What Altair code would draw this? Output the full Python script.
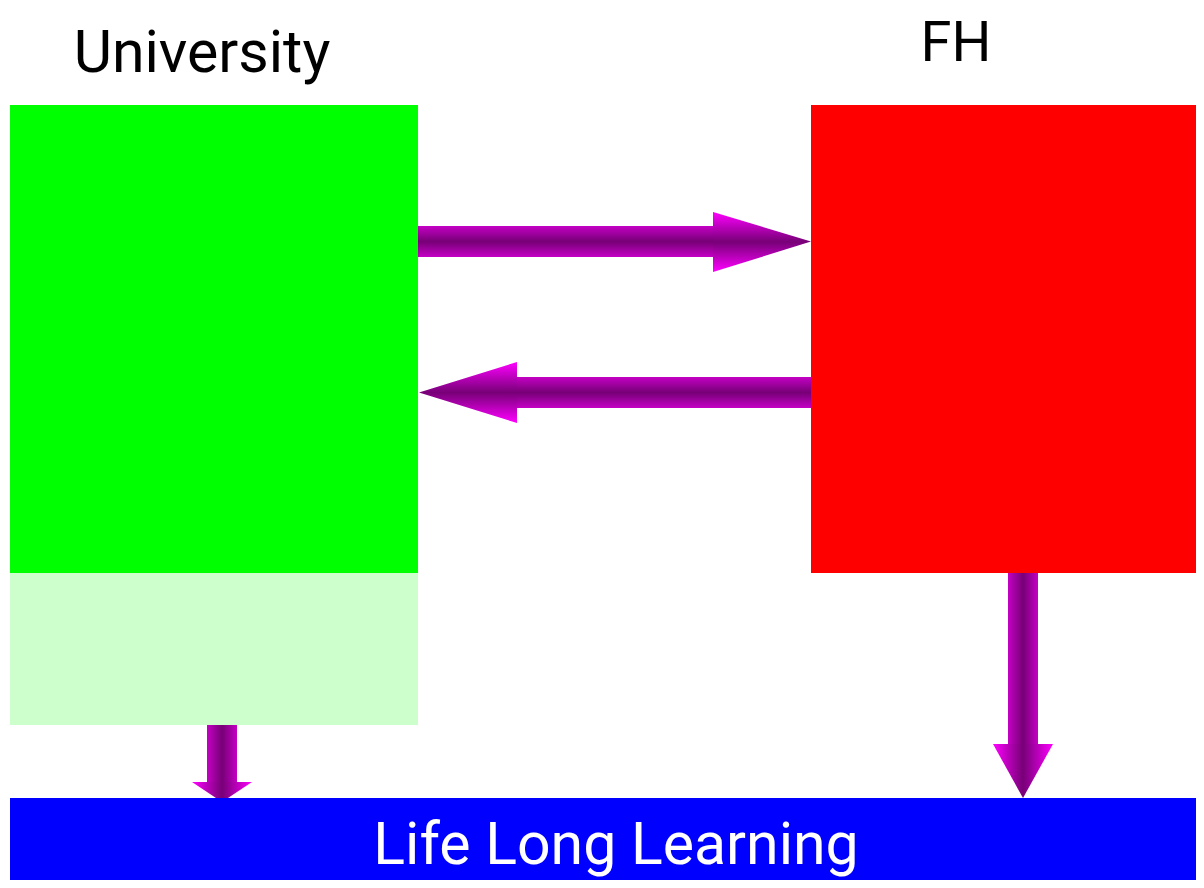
import altair as alt
import pandas as pd

# ---- diagram content (pixel-space coordinates of the picture) ----
box_names = ["University", "University (extra)", "FH", "Life Long Learning"]
box_x0 = [10, 10, 811, 10]
box_x1 = [418, 418, 1204, 1204]
box_y0 = [105, 573, 105, 798]
box_y1 = [573, 725, 573, 888]
box_colors = ["#00FF00", "#CCFFCC", "#FF0000", "#0000FF"]

label_texts = ["University", "FH", "Life Long Learning"]
label_x = [202, 956, 616]
label_y = [72, 61, 864]
label_colors = ["#000000", "#000000", "#FFFFFF"]
label_sizes = [59, 56, 59]

# horizontal arrows: shaft rects
hshaft_x0 = [418, 517]
hshaft_x1 = [713, 811]
hshaft_y0 = [226, 377]
hshaft_y1 = [257, 408]
# horizontal arrow heads: base x, tip x, base y0/y1, tip y
hhead_id = ["a1", "a1", "a2", "a2"]
hhead_x = [713, 811, 419, 517]
hhead_y0 = [212, 241.5, 392.5, 362]
hhead_y1 = [272, 241.5, 392.5, 423]

# vertical arrows: shaft rects
vshaft_x0 = [207, 1008]
vshaft_x1 = [237, 1038]
vshaft_y0 = [725, 573]
vshaft_y1 = [782, 744]
# vertical arrow heads
vhead_id = ["d1", "d1", "d2", "d2"]
vhead_y = [782, 802, 744, 798]
vhead_x0 = [192, 222, 993, 1023]
vhead_x1 = [252, 222, 1053, 1023]

W, H = 1188, 872
xs = alt.Scale(domain=[8, 8 + W], nice=False, zero=False)
ys = alt.Scale(domain=[8, 8 + H], nice=False, zero=False, reverse=True)

def grad(vertical, edge):
    if vertical:
        x1, y1, x2, y2 = 0, 0, 0, 1
    else:
        x1, y1, x2, y2 = 0, 0, 1, 0
    return {
        "gradient": "linear", "x1": x1, "y1": y1, "x2": x2, "y2": y2,
        "stops": [
            {"offset": 0, "color": edge},
            {"offset": 0.5, "color": "#770077"},
            {"offset": 1, "color": edge},
        ],
    }

boxes = pd.DataFrame({"name": box_names, "x0": box_x0, "x1": box_x1,
                      "y0": box_y0, "y1": box_y1, "c": box_colors})
labels = pd.DataFrame({"t": label_texts, "x": label_x, "y": label_y,
                       "c": label_colors, "s": label_sizes})
hs = pd.DataFrame({"x0": hshaft_x0, "x1": hshaft_x1, "y0": hshaft_y0, "y1": hshaft_y1})
hh = pd.DataFrame({"id": hhead_id, "x": hhead_x, "y0": hhead_y0, "y1": hhead_y1})
vs = pd.DataFrame({"x0": vshaft_x0, "x1": vshaft_x1, "y0": vshaft_y0, "y1": vshaft_y1})
vh = pd.DataFrame({"id": vhead_id, "y": vhead_y, "x0": vhead_x0, "x1": vhead_x1})

X = lambda f: alt.X(f, type="quantitative", scale=xs, axis=None)
Y = lambda f: alt.Y(f, type="quantitative", scale=ys, axis=None)

hshafts = alt.Chart(hs).mark_rect(fill=grad(True, "#C400C4")).encode(
    x=X("x0"), x2="x1", y=Y("y0"), y2="y1")
hheads = alt.Chart(hh).mark_area(fill=grad(True, "#FF00FF"), orient="vertical").encode(
    x=X("x"), y=Y("y0"), y2="y1", detail="id")
vshafts = alt.Chart(vs).mark_rect(fill=grad(False, "#C400C4")).encode(
    x=X("x0"), x2="x1", y=Y("y0"), y2="y1")
vheads = alt.Chart(vh).mark_area(fill=grad(False, "#FF00FF"), orient="horizontal").encode(
    y=Y("y"), x=X("x0"), x2="x1", detail="id")

box_layer = alt.Chart(boxes[boxes["name"] != "Life Long Learning"]).mark_rect(clip=True).encode(
    x=X("x0"), x2="x1", y=Y("y0"), y2="y1",
    fill=alt.Fill("c:N", scale=None))
bar_layer = alt.Chart(boxes[boxes["name"] == "Life Long Learning"]).mark_rect(clip=True).encode(
    x=X("x0"), x2="x1", y=Y("y0"), y2="y1",
    fill=alt.Fill("c:N", scale=None))

text_layer = alt.Chart(labels).mark_text(
    font="Roboto", baseline="alphabetic", align="center").encode(
    x=X("x"), y=Y("y"), text="t:N",
    fill=alt.Fill("c:N", scale=None),
    size=alt.Size("s:Q", scale=None, legend=None))

chart = alt.layer(box_layer, hshafts, hheads, vshafts, vheads, bar_layer, text_layer).properties(
    width=W, height=H, padding=0, autosize=alt.AutoSizeParams(type="none"),
    background="#FFFFFF",
).configure_view(stroke=None)

chart.save("out.html", embed_options={"renderer": "svg", "actions": False})
